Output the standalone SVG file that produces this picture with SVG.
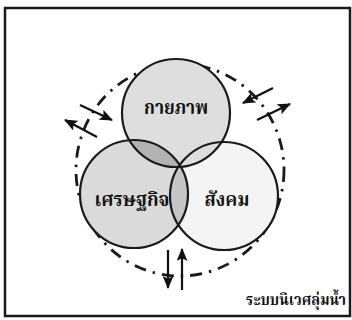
<svg xmlns="http://www.w3.org/2000/svg" width="352" height="320" viewBox="0 0 352 320">
<style>
.c{stroke:#1a1a1a;stroke-width:2.2;fill:none}
.t{font-family:"Noto Serif Thai","Noto Sans Thai","Loma","Garuda","Tlwg Typo","DejaVu Sans",sans-serif;font-weight:bold;fill:#111;text-anchor:middle}
.a{stroke:#111;stroke-width:2.2;fill:none}
.ring{stroke:#1a1a1a;stroke-width:2.8;fill:none;stroke-dasharray:12 7 2.5 7}
</style>
<defs>
<clipPath id="clipTop"><circle cx="176" cy="113" r="54"/></clipPath>
<clipPath id="clipLeft"><circle cx="134" cy="194" r="54"/></clipPath>
<marker id="ah" viewBox="0 0 12 10" refX="11" refY="5" markerWidth="14" markerHeight="11" orient="auto" markerUnits="userSpaceOnUse">
<path d="M0,0 L12,5 L0,10 L2.5,5 z" fill="#111"/>
</marker>
</defs>
<rect x="0" y="0" width="352" height="320" fill="#fff"/>
<rect x="5" y="8" width="345" height="308" fill="#fff" stroke="#1a1a1a" stroke-width="2.5"/>
<g id="ring-system">
<ellipse class="ring" cx="180" cy="170" rx="104" ry="106"/>
</g>
<g id="fills">
<circle cx="224" cy="196" r="54" fill="#f4f4f4"/>
<circle cx="134" cy="194" r="54" fill="#dadada"/>
<circle cx="176" cy="113" r="54" fill="#dedede"/>
<circle cx="224" cy="196" r="54" fill="#c6c6c6" clip-path="url(#clipLeft)"/>
<circle cx="134" cy="194" r="54" fill="#b2b2b2" clip-path="url(#clipTop)"/>
</g>
<g id="node-physical">
<circle class="c" cx="176" cy="113" r="54"/>
<text class="t" x="176" y="114" font-size="19" textLength="64" lengthAdjust="spacingAndGlyphs">กายภาพ</text>
</g>
<g id="node-economic">
<circle class="c" cx="134" cy="194" r="54"/>
<text class="t" x="132" y="206" font-size="19" textLength="75" lengthAdjust="spacingAndGlyphs">เศรษฐกิจ</text>
</g>
<g id="node-social">
<circle class="c" cx="224" cy="196" r="54"/>
<text class="t" x="227" y="206" font-size="19" textLength="45" lengthAdjust="spacingAndGlyphs">สังคม</text>
</g>
<g id="connectors">
<line class="a" x1="80" y1="105" x2="112" y2="120" marker-end="url(#ah)"/>
<line class="a" x1="97" y1="137" x2="65" y2="120" marker-end="url(#ah)"/>
<line class="a" x1="273" y1="88" x2="243" y2="103" marker-end="url(#ah)"/>
<line class="a" x1="257" y1="120" x2="290" y2="104" marker-end="url(#ah)"/>
<line class="a" x1="168" y1="250" x2="168" y2="288" marker-end="url(#ah)"/>
<line class="a" x1="182" y1="290" x2="182" y2="249" marker-end="url(#ah)"/>
</g>
<g id="label-watershed">
<text class="t" x="296" y="305" font-size="15" textLength="100" lengthAdjust="spacingAndGlyphs">ระบบนิเวศลุ่มน้ำ</text>
</g>
</svg>
